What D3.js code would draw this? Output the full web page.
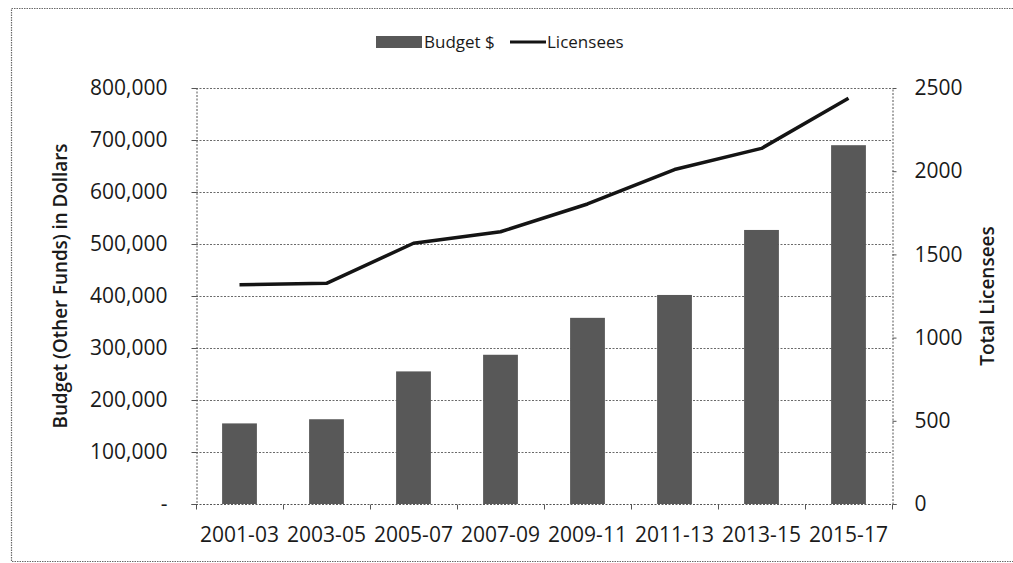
<!DOCTYPE html>
<html>
<head>
<meta charset="utf-8">
<script src="https://cdn.jsdelivr.net/npm/d3@7"></script>
<style>
  html, body { margin: 0; padding: 0; background: #fff; }
  svg { display: block; }
  text { font-family: "Open Sans", "DejaVu Sans", sans-serif; fill: #1a1a1a; }
</style>
</head>
<body>
<svg id="chart" width="1013" height="563"></svg>
<script>
// Biennium periods
const periods = ["2001-03", "2003-05", "2005-07", "2007-09", "2009-11", "2011-13", "2013-15", "2015-17"];
// Budget (Other Funds), dollars
const budget = [155000, 163000, 255000, 287000, 358000, 402000, 527000, 690000];
// Total licensees
const licensees = [1318, 1326, 1567, 1636, 1803, 2010, 2137, 2438];
// Axis ticks
const budgetTicks = [0, 100000, 200000, 300000, 400000, 500000, 600000, 700000, 800000];
const licenseeTicks = [0, 500, 1000, 1500, 2000, 2500];

const svg = d3.select("#chart");
const W = 1013, H = 563;
const plot = { left: 196, right: 892, top: 88, bottom: 504 };

const x = d3.scaleBand().domain(periods).range([plot.left, plot.right]).paddingInner(0.6).paddingOuter(0.3);
const band = d3.scaleBand().domain(periods).range([plot.left, plot.right]);
const yL = d3.scaleLinear().domain([0, 800000]).range([plot.bottom, plot.top]);
const yR = d3.scaleLinear().domain([0, 2500]).range([plot.bottom, plot.top]);

// Outer frame
svg.append("path")
  .attr("d", `M${W},8.5 H11.5 V561.5 H${W}`)
  .attr("fill", "none").attr("stroke", "#6a6a6a").attr("stroke-width", 1.2)
  .attr("stroke-dasharray", "1.5,1");

// Horizontal gridlines
svg.append("g").selectAll("line").data(budgetTicks.slice(1)).join("line")
  .attr("x1", plot.left).attr("x2", plot.right)
  .attr("y1", d => Math.round(yL(d)) + 0.5).attr("y2", d => Math.round(yL(d)) + 0.5)
  .attr("stroke", "#6a6a6a").attr("stroke-width", 1).attr("stroke-dasharray", "2,1.5");

// Bars
svg.append("g").selectAll("rect").data(periods).join("rect")
  .attr("x", d => x(d))
  .attr("y", (d, i) => yL(budget[i]))
  .attr("width", x.bandwidth())
  .attr("height", (d, i) => yL(0) - yL(budget[i]))
  .attr("fill", "#585858");

// Left axis
const axisL = d3.axisLeft(yL).tickValues(budgetTicks).tickSize(5).tickPadding(24)
  .tickFormat(d => d === 0 ? "-" : d3.format(",")(d));
const gL = svg.append("g").attr("transform", `translate(${plot.left + 0.5},0)`).call(axisL);
gL.select(".domain").attr("stroke", "#555").attr("stroke-dasharray", "2,1.5");
gL.selectAll(".tick line").attr("stroke", "#555");
gL.selectAll(".tick text").attr("font-size", 21).attr("fill", "#1a1a1a")
  .attr("font-family", "'Open Sans', sans-serif");

// Right axis
const axisR = d3.axisRight(yR).tickValues(licenseeTicks).tickSize(4).tickPadding(18)
  .tickFormat(d3.format("d"));
const gR = svg.append("g").attr("transform", `translate(${plot.right + 0.5},0)`).call(axisR);
gR.select(".domain").attr("stroke", "#555").attr("stroke-dasharray", "2,1.5");
gR.selectAll(".tick line").attr("stroke", "#555");
gR.selectAll(".tick text").attr("font-size", 21).attr("fill", "#1a1a1a")
  .attr("font-family", "'Open Sans', sans-serif");

// Bottom axis with ticks between categories
const gB = svg.append("g").attr("transform", `translate(0,${plot.bottom + 0.5})`);
gB.append("line").attr("x1", plot.left).attr("x2", plot.right)
  .attr("stroke", "#555").attr("stroke-dasharray", "2,1.5");
gB.selectAll("line.tk").data(periods.concat(["end"])).join("line").attr("class", "tk")
  .attr("x1", (d, i) => plot.left + i * band.bandwidth() + 0.5)
  .attr("x2", (d, i) => plot.left + i * band.bandwidth() + 0.5)
  .attr("y1", 0).attr("y2", 5).attr("stroke", "#555");
gB.selectAll("text").data(periods).join("text")
  .attr("x", d => band(d) + band.bandwidth() / 2)
  .attr("y", 37)
  .attr("text-anchor", "middle")
  .attr("font-size", 21)
  .text(d => d);

// Licensees line
const line = d3.line()
  .x((d, i) => band(periods[i]) + band.bandwidth() / 2)
  .y(d => yR(d));
svg.append("path").datum(licensees)
  .attr("d", line)
  .attr("fill", "none").attr("stroke", "#141414").attr("stroke-width", 3.5)
  .attr("stroke-linejoin", "round").attr("stroke-linecap", "butt");

// Axis titles
function fit(sel, len) {
  const n = sel.node().getComputedTextLength();
  if (n > len) sel.attr("textLength", len).attr("lengthAdjust", "spacingAndGlyphs");
}
const tL = svg.append("text")
  .attr("transform", `translate(67,${(plot.top + plot.bottom) / 2 - 10}) rotate(-90)`)
  .attr("text-anchor", "middle").attr("font-size", 19).attr("font-weight", 600)
  .text("Budget (Other Funds) in Dollars");
fit(tL, 285);
const tR = svg.append("text")
  .attr("transform", `translate(994,${(plot.top + plot.bottom) / 2}) rotate(-90)`)
  .attr("text-anchor", "middle").attr("font-size", 19).attr("font-weight", 600)
  .text("Total Licensees");
fit(tR, 146);

// Legend
const lg = svg.append("g");
lg.append("rect").attr("x", 376).attr("y", 36).attr("width", 46).attr("height", 12).attr("fill", "#585858");
lg.append("text").attr("x", 424).attr("y", 48).attr("font-size", 17).text("Budget $");
lg.append("line").attr("x1", 510).attr("x2", 546).attr("y1", 42).attr("y2", 42)
  .attr("stroke", "#141414").attr("stroke-width", 3);
lg.append("text").attr("x", 547).attr("y", 48).attr("font-size", 17).text("Licensees");
</script>
</body>
</html>
